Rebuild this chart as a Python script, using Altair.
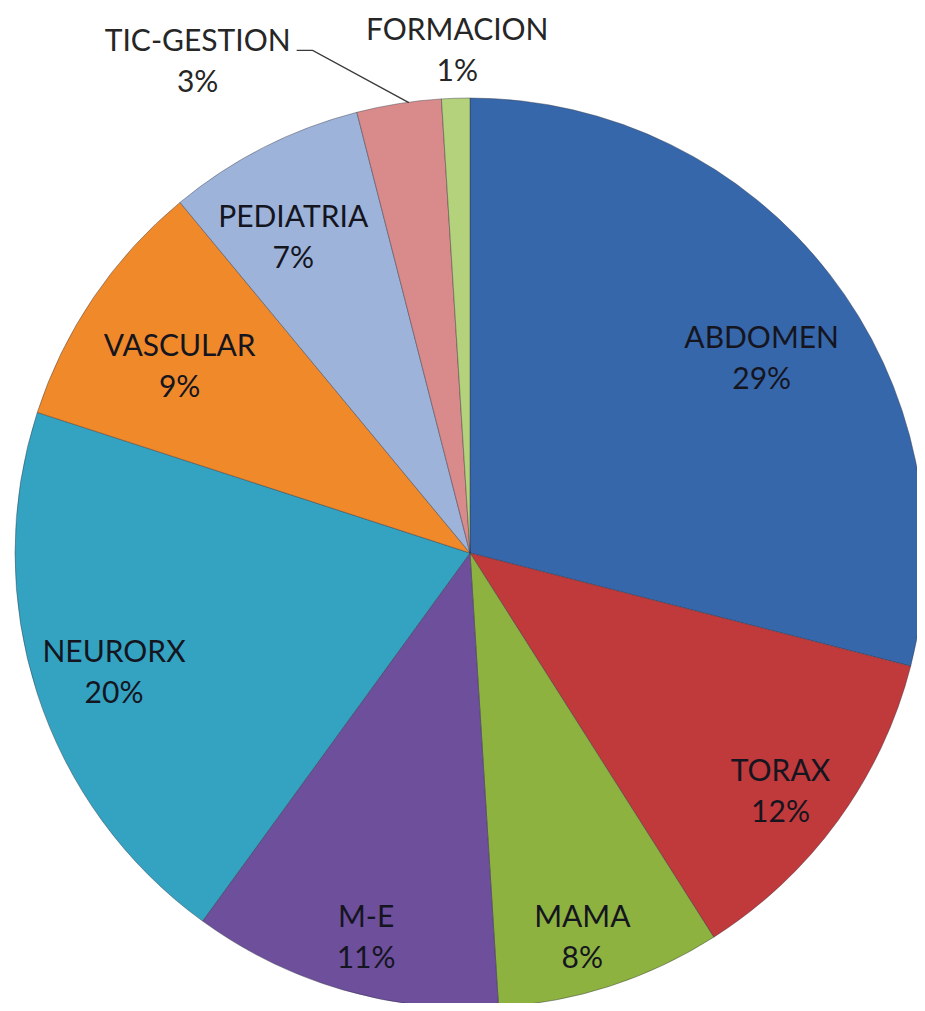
import math
import altair as alt
import pandas as pd

# ---- data ----
categories = ["ABDOMEN", "TORAX", "MAMA", "M-E", "NEURORX", "VASCULAR",
              "PEDIATRIA", "TIC-GESTION", "FORMACION"]
values = [29, 12, 8, 11, 20, 9, 7, 3, 1]
colors = ["#3767ab", "#c0393b", "#8db23f", "#6d4f9c", "#33a3c1",
          "#f0892a", "#9db3d9", "#d98a8a", "#b4d27b"]

# ---- layout (not data) ----
W, H = 909, 995
CX, CY, R = 462, 545, 455
# label radius and pixel offsets per slice
label_pos = {
    "ABDOMEN": (340, 23, -6),
    "TORAX": (390, -5, -10),
    "MAMA": (370, -2, 13),
    "M-E": (369, -1, 11),
    "NEURORX": (409, 33, -26),
    "VASCULAR": (345, -5, -12),
    "PEDIATRIA": (363, -12, -12),
    "TIC-GESTION": (520, -191, 3),
    "FORMACION": (502, 3, -20),
}
outside = ["TIC-GESTION", "FORMACION"]
total = sum(values)

df = pd.DataFrame({
    "cat": categories,
    "val": values,
    "idx": list(range(len(categories))),
    "label": [f"{c}\n{v}%" for c, v in zip(categories, values)],
})

theta_scale = alt.Scale(domain=[0, total], range=[0, 2 * math.pi])

pie = alt.Chart(df).mark_arc(outerRadius=R, stroke="#2f3340", strokeWidth=0.7,
                             strokeOpacity=0.6).encode(
    theta=alt.Theta("val:Q", stack=True, scale=theta_scale),
    order=alt.Order("idx:Q"),
    x=alt.value(CX), y=alt.value(CY),
    color=alt.Color("cat:N", scale=alt.Scale(domain=categories, range=colors),
                    legend=None),
)

lab_base = alt.Chart(df).transform_window(
    cum="sum(val)", sort=[alt.SortField("idx")], frame=[None, 0]
).transform_calculate(mid="datum.cum - datum.val / 2")

labels = []
for c in categories:
    r, dx, dy = label_pos[c]
    labels.append(
        lab_base.transform_filter(alt.datum.cat == c).mark_text(
            font="Lato", fontSize=30, lineBreak="\n", lineHeight=41,
            color="#262626" if c in outside else "#15151f",
            align="center", baseline="middle",
            radius=r, dx=dx, dy=dy,
        ).encode(
            theta=alt.Theta("mid:Q", stack=None, scale=theta_scale),
            x=alt.value(CX), y=alt.value(CY), text="label:N",
        )
    )

# leader line for TIC-GESTION: from label to the slice edge (angle from data)
k = categories.index("TIC-GESTION")
mid = (sum(values[:k]) + values[k] / 2) / total * 2 * math.pi
ex, ey = CX + R * math.sin(mid), CY - R * math.cos(mid)
lr, ldx, ldy = label_pos["TIC-GESTION"]
lx, ly = CX + lr * math.sin(mid) + ldx, CY - lr * math.cos(mid) + ldy
p0 = (lx + 99, ly + 8)
p1 = (lx + 115, ly + 8)
leader_df = pd.DataFrame({"px": [p0[0], p1[0], ex + 10],
                          "py": [p0[1], p1[1], ey - 1],
                          "o": [0, 1, 2]})
leader = alt.Chart(leader_df).mark_line(color="#3a3a3a", strokeWidth=1.3).encode(
    x=alt.X("px:Q", scale=None, axis=None),
    y=alt.Y("py:Q", scale=None, axis=None),
    order="o:Q",
)

chart = alt.layer(pie, *labels, leader).properties(
    width=W, height=H,
    autosize=alt.AutoSizeParams(type="none"),
    padding=0,
).configure_view(stroke=None)

chart.save("out.html", embed_options={"renderer": "svg", "actions": False})
